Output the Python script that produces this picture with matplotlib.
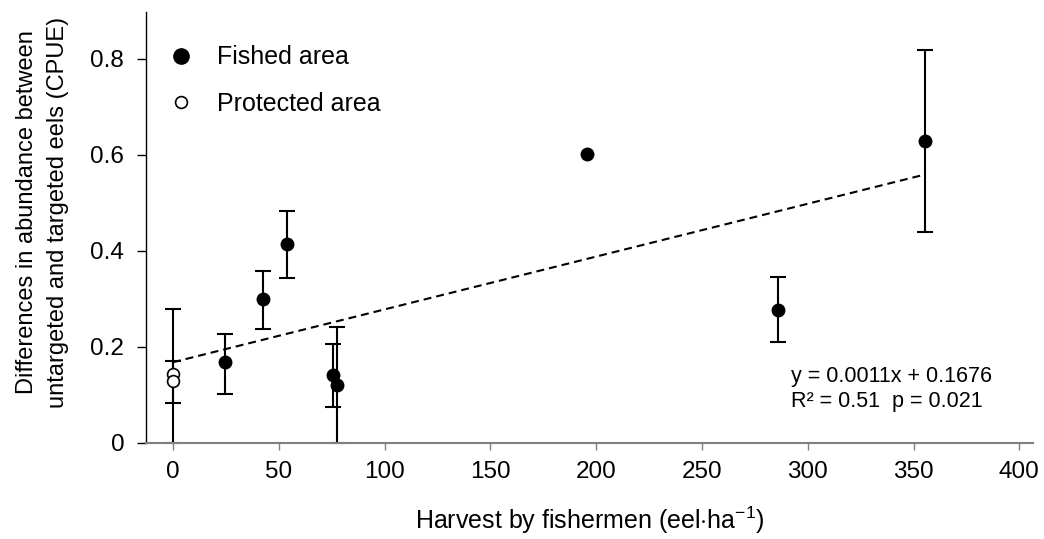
import numpy as np
import matplotlib
matplotlib.use('Agg')
import matplotlib.pyplot as plt
from matplotlib.lines import Line2D
from matplotlib.ticker import FuncFormatter

# fished area: harvest, mean CPUE difference, error bar low / high
fished_x = [24.6, 42.6, 53.9, 75.6, 77.5, 195.5, 285.8, 355.4]
fished_y = [0.168, 0.299, 0.413, 0.142, 0.120, 0.602, 0.276, 0.628]
fished_lo = [0.101, 0.236, 0.342, 0.074, 0.0, np.nan, 0.210, 0.438]
fished_hi = [0.227, 0.358, 0.482, 0.206, 0.240, np.nan, 0.346, 0.818]

# protected area (no harvest)
prot_x = [0, 0]
prot_y = [0.143, 0.129]
prot_lo = [0.0, 0.083]
prot_hi = [0.279, 0.170]

# regression
slope = 0.0011
intercept = 0.1676
fit_x = [0, 355.4]
eq_line1 = 'y = 0.0011x + 0.1676'
eq_line2 = 'R² = 0.51  p = 0.021'

plt.rcParams['font.family'] = ['Liberation Sans', 'DejaVu Sans']
plt.rcParams['mathtext.fontset'] = 'custom'
plt.rcParams['mathtext.rm'] = 'Liberation Sans'
plt.rcParams['mathtext.it'] = 'Liberation Sans:italic'

fig = plt.figure(figsize=(10.44, 5.39), dpi=100)
ax = fig.add_axes([0.1396, 0.1787, 0.8499, 0.799])

def errs(y, lo, hi):
    y = np.array(y); lo = np.array(lo); hi = np.array(hi)
    return np.vstack([y - lo, hi - y])

fy = np.array(fished_y)
ferr = errs(fished_y, fished_lo, fished_hi)
ok = ~np.isnan(ferr[0])
ax.errorbar(np.array(fished_x)[ok], fy[ok], yerr=ferr[:, ok], fmt='none',
            ecolor='black', elinewidth=1.5, capsize=5.5, capthick=1.5,
            clip_on=False, zorder=2)
ax.errorbar(prot_x, prot_y, yerr=errs(prot_y, prot_lo, prot_hi), fmt='none',
            ecolor='black', elinewidth=1.5, capsize=5.5, capthick=1.5,
            clip_on=False, zorder=2)

fit_y = [slope * v + intercept for v in fit_x]
ax.plot(fit_x, fit_y, color='black', linestyle='--', linewidth=1.5,
        dashes=(3.8, 2.4), zorder=3)

ax.plot(fished_x, fished_y, 'o', color='black', markersize=9, zorder=4)
ax.plot(prot_x, prot_y, 'o', markerfacecolor='white', markeredgecolor='black',
        markeredgewidth=1.2, markersize=8.5, zorder=4)

ax.text(291.9, 0.1258, eq_line1, fontsize=15.5, va='baseline', ha='left')
ax.text(291.9, 0.0733, eq_line2, fontsize=15.5, va='baseline', ha='left')

ax.set_xlim(-12.9, 406.5)
ax.set_ylim(0, 0.897)
ax.set_xticks(np.arange(0, 401, 50))
ax.set_yticks([0, 0.2, 0.4, 0.6, 0.8])
ax.yaxis.set_major_formatter(FuncFormatter(lambda v, p: '{:g}'.format(round(v, 2))))

ax.spines['top'].set_visible(False)
ax.spines['right'].set_visible(False)
ax.spines['left'].set_color('black')
ax.spines['left'].set_linewidth(1.0)
ax.spines['bottom'].set_color('#808080')
ax.spines['bottom'].set_linewidth(1.5)
ax.tick_params(axis='y', direction='out', length=6.5, width=1.0, color='black',
               labelsize=17.5, pad=9)
ax.tick_params(axis='x', direction='out', length=5, width=1.0, color='#808080',
               labelsize=17.5, pad=8)

ax.set_xlabel(r'Harvest by fishermen (eel$\cdot$ha$^{\mathregular{-1}}$)', fontsize=18, labelpad=16)
ax.set_ylabel('Differences in abundance between\nuntargeted and targeted eels (CPUE)',
              fontsize=17, linespacing=1.55)
ax.yaxis.set_label_coords(-0.086, 0.535)

handles = [Line2D([], [], marker='o', linestyle='none', color='black', markersize=11),
           Line2D([], [], marker='o', linestyle='none', markerfacecolor='white',
                  markeredgecolor='black', markeredgewidth=1.2, markersize=8.5)]
ax.legend(handles, ['Fished area', 'Protected area'], loc='upper left',
          bbox_to_anchor=(0.007, 0.946), frameon=False, fontsize=18,
          handlelength=1.5, handletextpad=0.7, labelspacing=0.9, borderaxespad=0)

fig.savefig('out.png', dpi=100)
